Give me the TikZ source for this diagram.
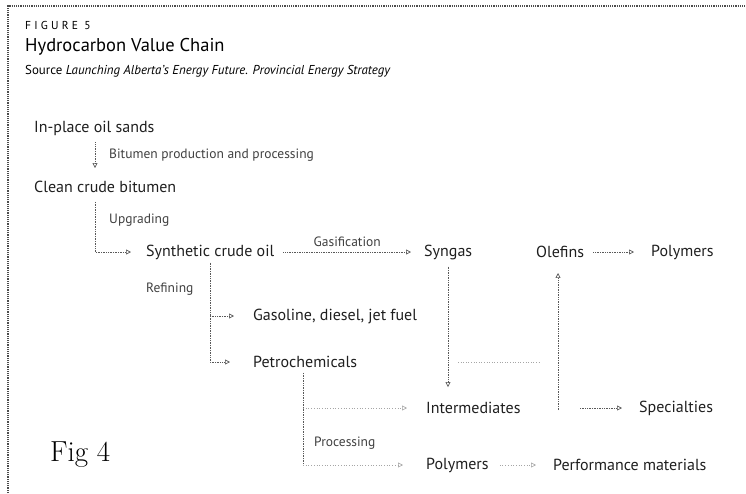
\documentclass[tikz,border=0pt]{standalone}
\usepackage{fontspec}
\setmainfont{PT Sans}
\newfontfamily\lmfont{Latin Modern Roman}
\usetikzlibrary{arrows.meta}
\tikzset{
  main/.style={anchor=west, inner sep=1pt, font=\fontsize{16}{18}\selectfont, text=black!88},
  small/.style={anchor=west, inner sep=1pt, font=\fontsize{13.5}{15}\selectfont, text=black!75},
  link/.style={draw=black!65, densely dotted, line width=0.7pt},
  arr/.style={link, -{Triangle[open, length=5pt, width=5pt]}},
  faint/.style={draw=black!35, dotted, line width=0.6pt},
}
\begin{document}
\begin{tikzpicture}[x=1pt,y=-1pt]
\useasboundingbox (0,0) rectangle (746,493);
% frame
\draw[draw=black!70, densely dotted, line width=1.2pt] (8,493) -- (8,6) -- (746,6);
% header
\node[anchor=west, inner sep=0pt, font=\fontsize{11.5}{12}\selectfont\addfontfeature{LetterSpace=28}] (fig) at (25,25) {FIGURE 5};
\node[anchor=west, inner sep=0pt, font=\fontsize{18.5}{20}\selectfont] (title) at (25,47) {Hydrocarbon Value Chain};
\node[anchor=west, inner sep=0pt, font=\fontsize{12.9}{14}\selectfont] (src) at (25,71) {Source \textit{Launching Alberta's Energy Future. Provincial Energy Strategy}};
% nodes
\node[main] (ios) at (33,128) {In-place oil sands};
\node[main] (ccb) at (33,187) {Clean crude bitumen};
\node[main] (sco) at (145,252) {Synthetic crude oil};
\node[main] (syn) at (423,252) {Syngas};
\node[main] (ole) at (535,252) {Olefins};
\node[main] (pol1) at (650,252) {Polymers};
\node[main] (gas) at (252,316) {Gasoline, diesel, jet fuel};
\node[main] (pet) at (252,362) {Petrochemicals};
\node[main] (int) at (425,408) {Intermediates};
\node[main] (spc) at (638,408) {Specialties};
\node[main] (pol2) at (425,465) {Polymers};
\node[main] (perf) at (552,465) {Performance materials};
\node[anchor=west, inner sep=0pt, font=\lmfont\fontsize{29}{30}\selectfont] (fig4) at (50,455) {Fig 4};
% labels
\node[small] (lbp) at (108,155) {Bitumen production and processing};
\node[small] (lup) at (108,220) {Upgrading};
\node[small] (lref) at (145,289) {Refining};
\node[small] (lpro) at (313,443) {Processing};
% guide coordinates
\coordinate (xa) at (95,0);
\coordinate (xb) at (210,0);
\coordinate (xs) at (448,0);
\coordinate (xo) at (558,0);
\coordinate (xp) at (303,0);
% connectors
\draw[arr] ([yshift=-6pt]ios.south -| xa) -- ([yshift=12pt]ccb.north -| xa);
\draw[arr] ([yshift=-8pt]ccb.south -| xa) |- ([xshift=-14pt]sco.west);
\draw[arr] ([xshift=8pt]sco.east) -- node[small, anchor=south, yshift=4pt] (lgas) {Gasification} ([xshift=-12pt]syn.west);
\draw[arr] ([xshift=8pt]ole.east) -- ([xshift=-16pt]pol1.west);
\draw[link] ([yshift=-2pt]sco.south -| xb) -- (xb |- gas.west);
\draw[arr] (xb |- gas.west) -- ([xshift=-18pt]gas.west);
\draw[arr] (xb |- gas.west) |- ([xshift=-22pt]pet.west);
\draw[arr] ([yshift=-6pt]syn.south -| xs) -- ([yshift=14pt]int.north -| xs);
\draw[arr] ([yshift=-2pt]xo |- int.west) -- ([yshift=-14pt]ole.south -| xo);
\draw[faint] ([xshift=10pt]xs |- pet.west) -- ([xshift=-18pt]xo |- pet.west);
\draw[arr] ([xshift=22pt]xo |- spc.west) -- ([xshift=-16pt]spc.west);
\draw[link] ([yshift=-4pt]pet.south -| xp) -- (xp |- pol2.west);
\draw[arr, faint] (xp |- int.west) -- ([xshift=-18pt]int.west);
\draw[arr, faint] (xp |- pol2.west) -- ([xshift=-22pt]pol2.west);
\draw[arr, faint] ([xshift=10pt]pol2.east) -- ([xshift=-16pt]perf.west);
\end{tikzpicture}
\end{document}
